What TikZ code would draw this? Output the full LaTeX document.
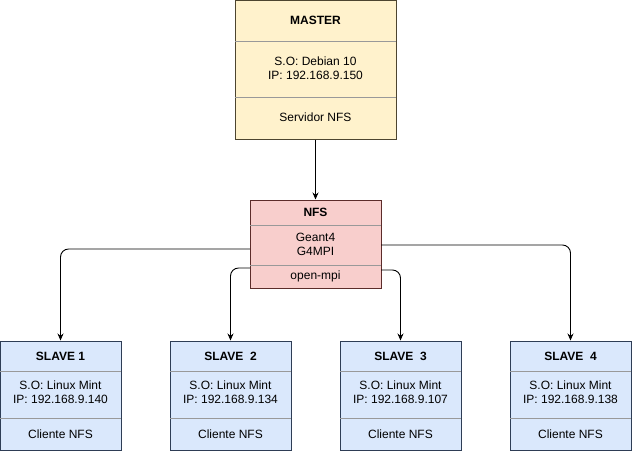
\documentclass[tikz,border=0pt]{standalone}
\usepackage{fontspec}
\setmainfont{Liberation Sans}
\usetikzlibrary{positioning,arrows.meta}

\definecolor{masterfill}{HTML}{FFF2CC}
\definecolor{masterline}{HTML}{4D4530}
\definecolor{nfsfill}{HTML}{F8CECC}
\definecolor{nfsline}{HTML}{5C2C2A}
\definecolor{slavefill}{HTML}{DAE8FC}
\definecolor{slaveline}{HTML}{2E3D55}

\begin{document}
\begin{tikzpicture}[x=1pt,y=-1pt,font=\fontsize{12}{14}\selectfont]
	\tikzstyle{box}=[rectangle,inner sep=0pt,line width=1pt]
	\tikzstyle{master box}=[box,fill=masterfill,draw=masterline,minimum width=161pt,minimum height=139pt]
	\tikzstyle{nfs box}=[box,fill=nfsfill,draw=nfsline,minimum width=131pt,minimum height=88pt]
	\tikzstyle{slave box}=[box,fill=slavefill,draw=slaveline,minimum width=121pt,minimum height=109pt]
	\tikzstyle{divider}=[draw=black!40,line width=0.8pt]
	\tikzstyle{title}=[font=\fontsize{12}{14}\selectfont\bfseries,inner sep=0pt]
	\tikzstyle{info}=[align=center,inner sep=0pt]
	\tikzstyle{edge}=[-{Stealth[length=7pt,width=6pt]},line width=0.9pt,rounded corners=8pt]

	\useasboundingbox (0,0) rectangle (632,451);

	% master
	\node[master box] (master) at (315.5,69.5) {};
	\draw[divider] (235,41) -- (396,41);
	\draw[divider] (235,97) -- (396,97);
	\node[title] (master-t) at (315.5,20.5) {MASTER};
	\node[info] (master-i) at (315.5,68) {S.O: Debian 10\\IP: 192.168.9.150};
	\node[info] (master-s) at (315.5,117) {Servidor NFS};

	% nfs
	\node[nfs box] (nfs) at (315.5,244) {};
	\draw[divider] (250,225) -- (381,225);
	\draw[divider] (250,265) -- (381,265);
	\node[title] (nfs-t) at (315.5,212.5) {NFS};
	\node[info] (nfs-i) at (315.5,244) {Geant4\\G4MPI};
	\node[info] (nfs-s) at (315.5,276) {open-mpi};

	% slaves
	\foreach \n/\x/\name/\ip in {1/60.5/SLAVE 1/140, 2/230.5/SLAVE\ \ 2/134, 3/400.5/SLAVE\ \ 3/107, 4/570.5/SLAVE\ \ 4/138} {
		\node[slave box] (slave\n) at (\x,395.5) {};
		\draw[divider] (\x-60.5,371) -- (\x+60.5,371);
		\draw[divider] (\x-60.5,418) -- (\x+60.5,418);
		\node[title] (slave\n-t) at (\x,356) {\name};
		\node[info] (slave\n-i) at (\x,392) {S.O: Linux Mint\\IP: 192.168.9.\ip};
		\node[info] (slave\n-s) at (\x,434) {Cliente NFS};
	}

	\coordinate (nfs-l1) at (250,249);
	\coordinate (nfs-l2) at (250,268);
	\coordinate (nfs-r1) at (381,245);
	\coordinate (nfs-r2) at (381,270);

	\draw[edge] (master) -- (nfs);
	\draw[edge] (nfs-l1) -| (slave1.north);
	\draw[edge] (nfs-l2) -| (slave2.north);
	\draw[edge] (nfs-r2) -| (slave3.north);
	\draw[edge] (nfs-r1) -| (slave4.north);
\end{tikzpicture}
\end{document}
